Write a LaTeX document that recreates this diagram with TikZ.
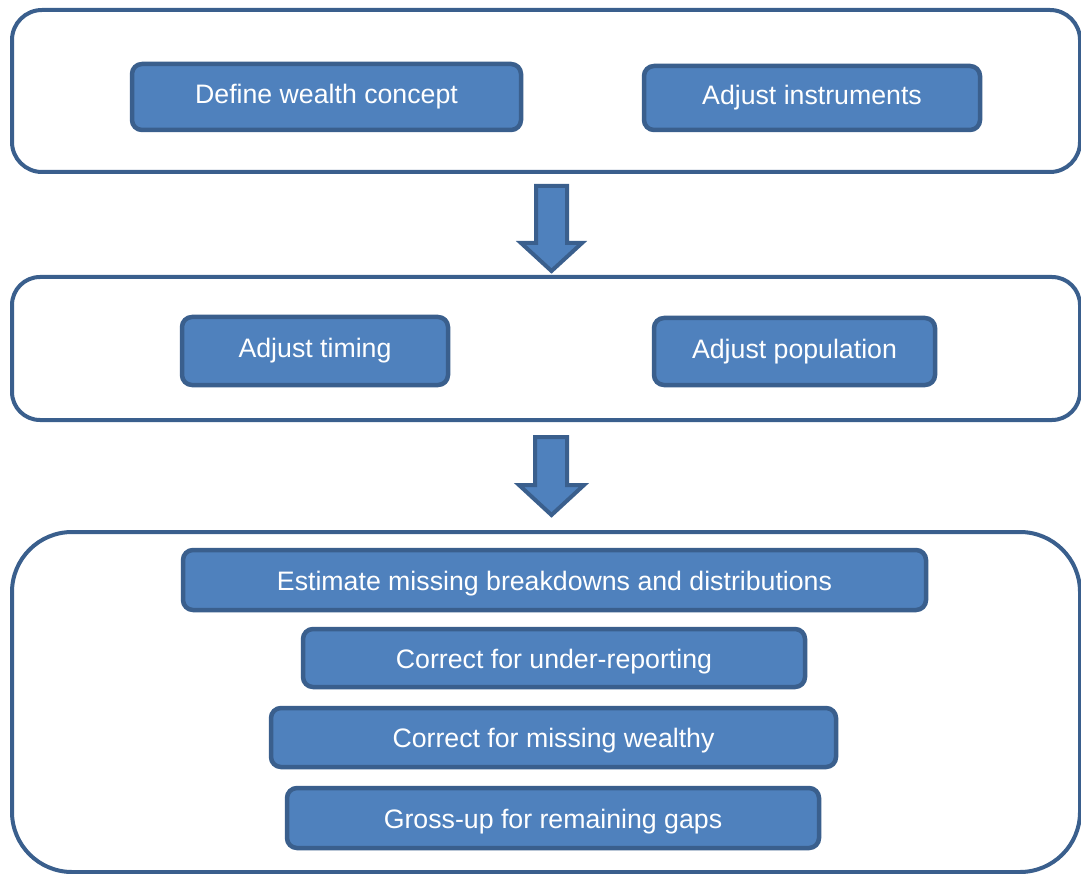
\documentclass[tikz,border=0pt]{standalone}
\usepackage{fontspec}
\setmainfont{Liberation Sans}
\definecolor{fillblue}{HTML}{4F81BD}
\definecolor{edgeblue}{HTML}{3A5F8D}
\begin{document}
\begin{tikzpicture}[x=1pt,y=-1pt,
  container/.style={draw=edgeblue, line width=4pt, fill=white, outer sep=0pt, inner sep=0pt, anchor=north west},
  stepbox/.style={draw=edgeblue, fill=fillblue, line width=4.5pt, rounded corners=10pt, text=white,
    font=\fontsize{26.7}{30}\selectfont, inner sep=0pt, outer sep=0pt, text height=19pt, text depth=5pt},
  lowbox/.style={stepbox, text height=20pt, text depth=0pt},
  blockarrow/.style={draw=edgeblue, fill=fillblue, line width=4pt, line join=miter}]
\useasboundingbox (0,0) rectangle (1081,874);
\clip (0,0) rectangle (1081,874);
% containers
\node[container, rounded corners=30pt, minimum width=1068pt, minimum height=162pt] (c1) at (12,10) {};
\node[container, rounded corners=28pt, minimum width=1068pt, minimum height=143pt] (c2) at (12,277) {};
\node[container, rounded corners=60pt, minimum width=1068pt, minimum height=340pt] (c3) at (12,532) {};
% steps
\node[stepbox, minimum width=389pt, minimum height=66pt] (def) at (326.5,97) {Define wealth concept};
\node[stepbox, minimum width=336pt, minimum height=64pt] (ins) at (812,98) {Adjust instruments};
\node[stepbox, minimum width=266pt, minimum height=68pt] (tim) at (315,351) {Adjust timing};
\node[stepbox, minimum width=281pt, minimum height=67pt] (pop) at (794.5,351.5) {Adjust population};
\node[lowbox, minimum width=743pt, minimum height=60pt] (est) at (554.5,580) {Estimate missing breakdowns and distributions};
\node[lowbox, minimum width=502pt, minimum height=58pt] (und) at (554,658) {Correct for under-reporting};
\node[lowbox, minimum width=565pt, minimum height=59pt] (wea) at (553.5,737.5) {Correct for missing wealthy};
\node[lowbox, minimum width=532pt, minimum height=60pt] (gro) at (553,818) {Gross-up for remaining gaps};
% block arrows
\draw[blockarrow] (536,186) -- (567,186) -- (567,243) -- (582,243) -- (551.5,271) -- (521,243) -- (536,243) -- cycle;
\draw[blockarrow] (535,437) -- (567,437) -- (567,485) -- (584,485) -- (551.5,515) -- (519,485) -- (535,485) -- cycle;
\end{tikzpicture}
\end{document}
